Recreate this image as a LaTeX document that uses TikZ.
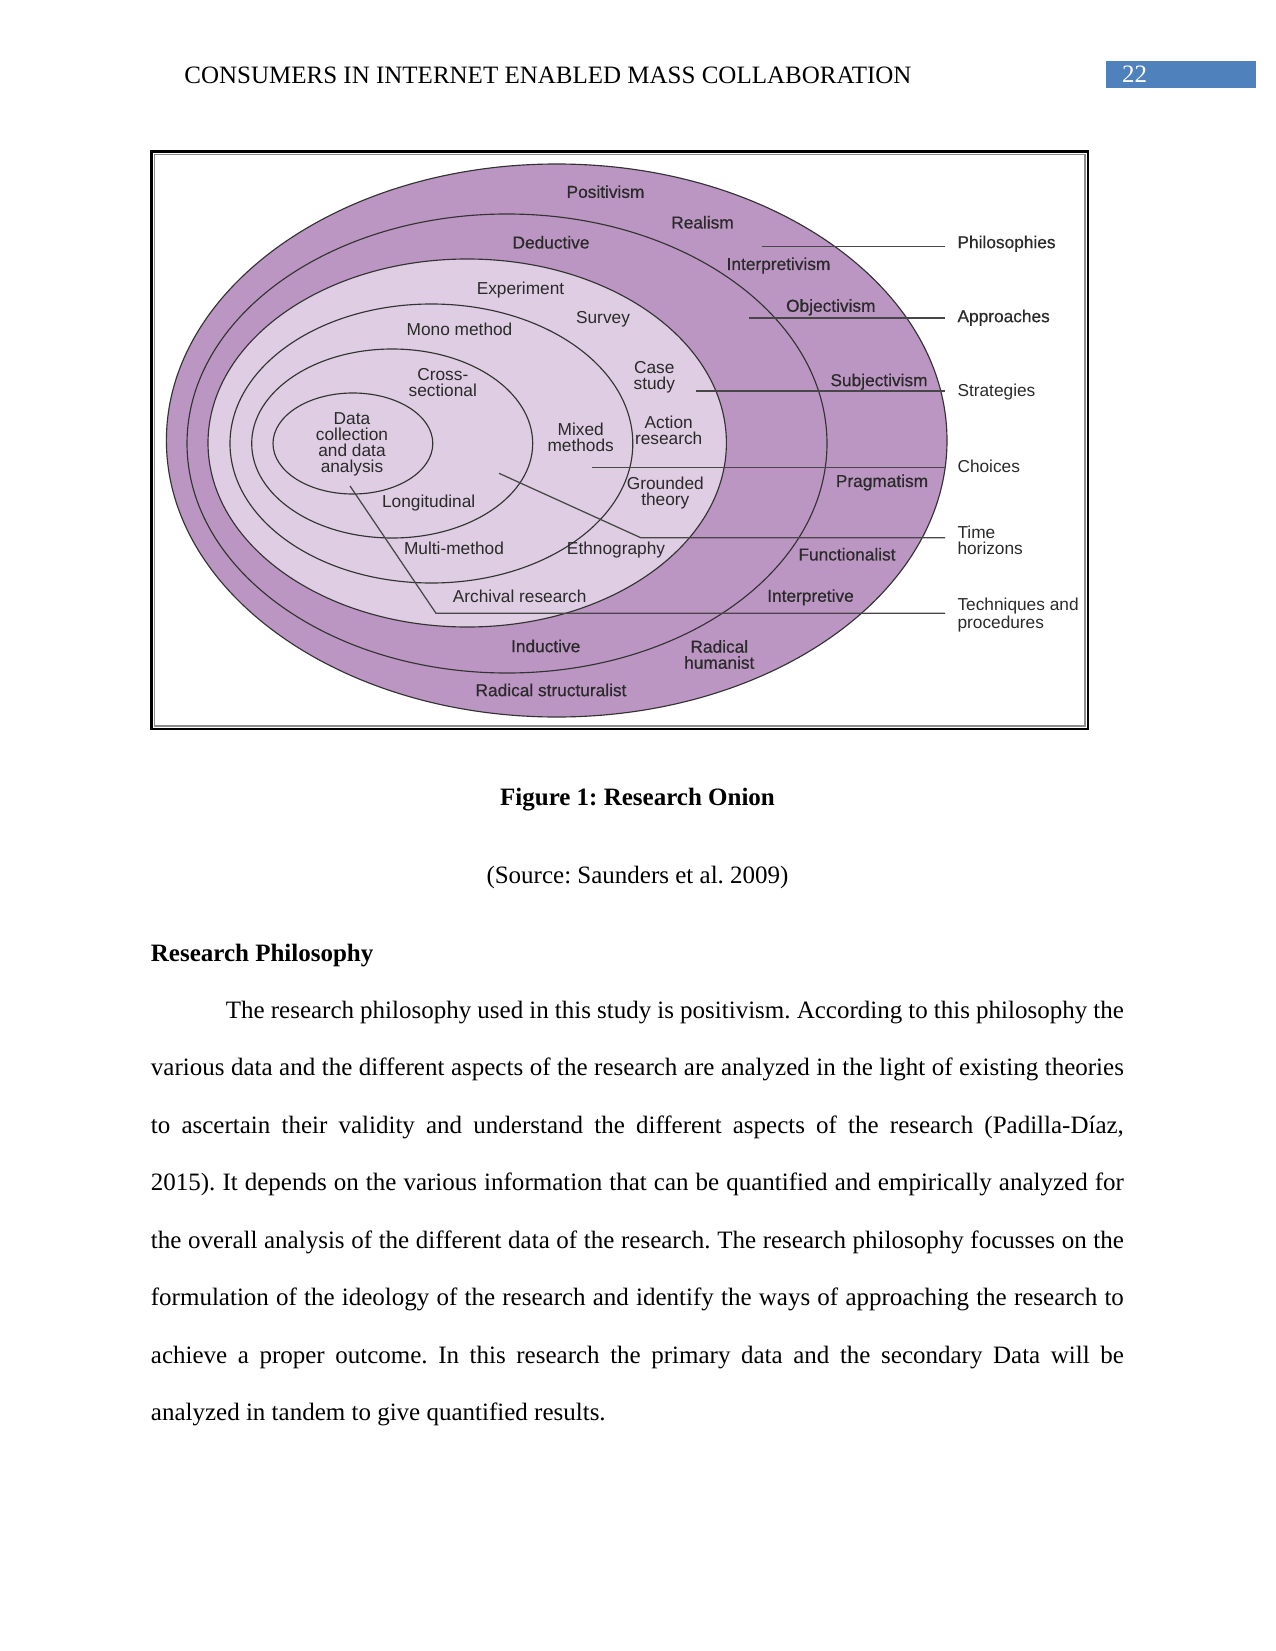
\documentclass[tikz,border=0pt]{standalone}
\usepackage{fontspec}
\setmainfont{Liberation Serif}
\newfontfamily\onionsans{Liberation Sans}
\newfontfamily\onionsemi{Liberation Sans}[FakeBold=0.6]
\usetikzlibrary{positioning, calc}
\definecolor{onionDark}{HTML}{BC96C3}
\definecolor{onionLight}{HTML}{DFCDE3}
\definecolor{pageBlue}{HTML}{4F81BD}
\definecolor{labelGray}{HTML}{2A2A2A}
\frenchspacing

\tikzset{
  ring/.style={draw=black!80, line width=0.55pt},
  lbl/.style={font=\onionsans\fontsize{8.3}{7.7}\selectfont, text=labelGray,
              inner sep=0pt, align=center},
  outer lbl/.style={lbl, font=\onionsemi\fontsize{8.3}{7.7}\selectfont},
  side/.style={lbl, anchor=west, align=left, inner xsep=5.8pt},
  leader/.style={draw=black!72, line width=0.6pt},
  pagetext/.style={font=\fontsize{12}{14}\selectfont, inner sep=0pt},
  bodyline/.style={pagetext, anchor=base west}
}

\begin{document}
\begin{tikzpicture}[x=0.48pt, y=-0.48pt]
\useasboundingbox (0,0) rectangle (1275,1651);

% running head
\node[pagetext, anchor=base west] (head) at (184,84)
  {CONSUMERS IN INTERNET ENABLED MASS COLLABORATION};
\fill[pageBlue] (1106,61) rectangle (1255.7,88.3);
\node[pagetext, anchor=base west, text=white!95] (pageno) at (1121.7,82.3) {22};

% figure frame
\draw[line width=1.2pt] (151.5,151.5) rectangle (1088,729);
\draw[black!45, line width=0.5pt] (154.5,154.5) rectangle (1085,726);

% the onion layers
\draw[ring, fill=onionDark]  (556.7,440.5) ellipse [x radius=390.3, y radius=276.5];
\draw[ring, fill=onionDark]  (507,443.5)   ellipse [x radius=320,   y radius=229.5];
\draw[ring, fill=onionLight] (467.2,443)   ellipse [x radius=259.2, y radius=184];
\draw[ring, fill=onionLight] (431.4,443.5) ellipse [x radius=201.4, y radius=139.5];
\draw[ring, fill=onionLight] (392.2,443.5) ellipse [x radius=140.5, y radius=94.5];
\draw[ring, fill=onionLight] (352.9,443.5) ellipse [x radius=79.9,  y radius=50.5];

% layer labels
\node[outer lbl] (positivism) at (605.5,191.7) {Positivism};
\node[outer lbl] (realism)    at (702.5,222.3) {Realism};
\node[outer lbl] (deductive)  at (551,242.3)   {Deductive};
\node[outer lbl] (interpretivism) at (778.5,265.5) {Interpretivism};
\node[lbl] (experiment) at (520.5,290.5) {Experiment};
\node[outer lbl] (objectivism) at (830.8,307.3) {Objectivism};
\node[lbl] (survey)     at (603,319.5)   {Survey};
\node[lbl] (mono)       at (459.5,329)   {Mono method};
\node[lbl] (cross)      at (442.8,382.5) {Cross-\\sectional};
\node[lbl] (casestudy)  at (654.3,377.5) {Case\\study};
\node[outer lbl] (subjectivism) at (879,381.7) {Subjectivism};
\node[lbl] (datacoll)   at (352,444.5)   {Data\\collection\\and data\\analysis};
\node[lbl] (mixed)      at (580.7,437)   {Mixed\\methods};
\node[lbl] (action)     at (668.7,430)   {Action\\research};
\node[outer lbl] (pragmatism) at (882,482.5)   {Pragmatism};
\node[lbl] (grounded)   at (665.3,493.5) {Grounded\\theory};
\node[lbl] (longit)     at (428.7,502.7) {Longitudinal};
\node[lbl] (multi)      at (454,548.3)   {Multi-method};
\node[lbl] (ethno)      at (616,550.5)   {Ethnography};
\node[outer lbl] (functional) at (847,554.3)   {Functionalist};
\node[lbl] (archival)   at (519.7,596)   {Archival research};
\node[outer lbl] (interpretive) at (810.5,597.3) {Interpretive};
\node[outer lbl] (inductive)  at (545.7,646)   {Inductive};
\node[outer lbl] (radhum)     at (719.3,654.5) {Radical\\humanist};
\node[outer lbl] (radstruct)  at (551,690)     {Radical structuralist};

% layer names on the right
\node[side, font=\onionsemi\fontsize{8.3}{7.7}\selectfont] (phil)  at (945,243.7) {Philosophies};
\node[side, font=\onionsemi\fontsize{8.3}{7.7}\selectfont] (appr)  at (945,317.7) {Approaches};
\node[side] (strat) at (945,391.7) {Strategies};
\node[side] (choic) at (945,466)   {Choices};
\node[side] (time)  at (945,540.5) {Time\\horizons};
\node[side] (tech)  at (945,615)   {Techniques and\\procedures};

\coordinate (philA)  at (761.7,246.7);
\coordinate (apprA)  at (749,318);
\coordinate (stratA) at (696,391);
\coordinate (choicA) at (592,467.3);
\coordinate (timeA)  at (499,473.3);
\coordinate (timeB)  at (640.7,537.7);
\coordinate (techA)  at (350,486);
\coordinate (techB)  at (436,613.3);

\draw[leader] (philA) -- (philA -| phil.west);
\draw[leader] (apprA) -- (apprA -| appr.west);
\draw[leader] (stratA) -- (stratA -| strat.west);
\draw[leader] (choicA) -- (choicA -| choic.west);
\draw[leader] (timeA) -- (timeB) -- (timeB -| time.west);
\draw[leader] (techA) -- (techB) -- (techB -| tech.west);

% caption
\node[pagetext, anchor=base, font=\fontsize{12}{14}\selectfont\bfseries] (caption)
  at (637.5,805) {Figure 1: Research Onion};
\node[pagetext, anchor=base] (source) at (637.5,883) {(Source: Saunders et al. 2009)};

% section text
\node[pagetext, anchor=base west, font=\fontsize{12}{14}\selectfont\bfseries] (sechead)
  at (150.5,961.7) {Research Philosophy};
\node[bodyline] (l1) at (150.5,1018.3) {\hbox to 467pt{\hskip36pt The research philosophy used in this study is positivism. According to this philosophy the}};
\node[bodyline] (l2) at (150.5,1075.8) {\hbox to 467pt{various data and the different aspects of the research are analyzed in the light of existing theories}};
\node[bodyline] (l3) at (150.5,1133.3) {\hbox to 467pt{to ascertain their validity and understand the different aspects of the research (Padilla-Díaz,}};
\node[bodyline] (l4) at (150.5,1190.8) {\hbox to 467pt{2015). It depends on the various information that can be quantified and empirically analyzed for}};
\node[bodyline] (l5) at (150.5,1248.3) {\hbox to 467pt{the overall analysis of the different data of the research. The research philosophy focusses on the}};
\node[bodyline] (l6) at (150.5,1305.8) {\hbox to 467pt{formulation of the ideology of the research and identify the ways of approaching the research to}};
\node[bodyline] (l7) at (150.5,1363.3) {\hbox to 467pt{achieve a proper outcome. In this research the primary data and the secondary Data will be}};
\node[bodyline] (l8) at (150.5,1420.8) {analyzed in tandem to give quantified results.};
\end{tikzpicture}
\end{document}
